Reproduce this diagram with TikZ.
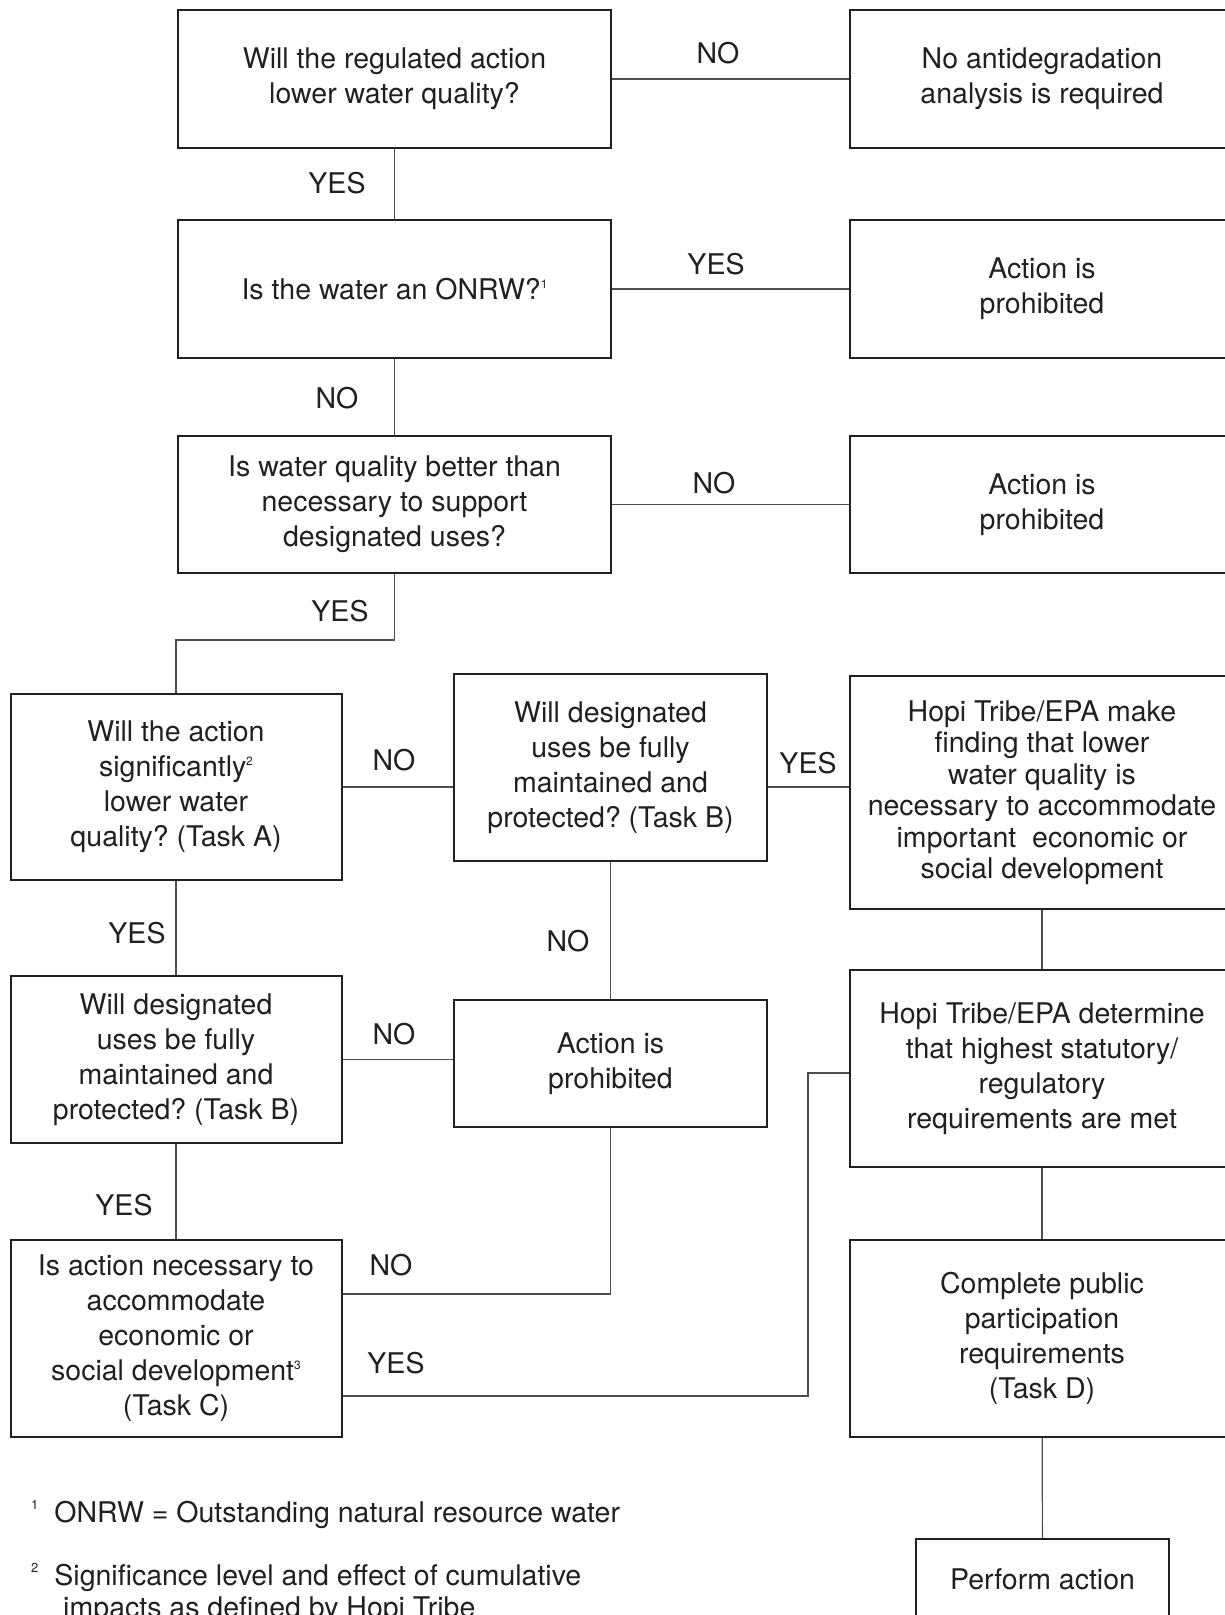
\documentclass[tikz,border=0pt]{standalone}
\usepackage{fontspec}
\setmainfont{TeX Gyre Heros}
\usepackage{tikz}
\frenchspacing
\definecolor{cink}{HTML}{231f20}
\definecolor{cline}{HTML}{4d4d4f}
\newcommand{\supnum}[1]{\raisebox{11pt}{\fontsize{12}{12}\selectfont #1}}
\newcommand{\fnnum}[1]{\raisebox{13pt}{\fontsize{13}{13}\selectfont #1}}

\begin{document}
\begin{tikzpicture}[
  x=1pt,y=-1pt,
  box/.style={draw=cink,line width=2pt,align=center,inner sep=2pt,text=cink,
    font=\fontsize{28.5}{35}\selectfont},
  lbl/.style={text=cink,font=\fontsize{28.5}{35}\selectfont,inner sep=0pt},
  link/.style={draw=cline,line width=1.2pt},
  fnote/.style={text=cink,font=\fontsize{28.5}{32}\selectfont,anchor=base west,inner sep=0pt}]
  \useasboundingbox (0,0) rectangle (1225,1615);
  \clip (0,0) rectangle (1225,1615);

  % top column
  \node[box,minimum width=433pt,minimum height=138pt] (regq) at (394.5,79) {Will the regulated action\\lower water quality?};
  \node[box,minimum width=384pt,minimum height=138pt] (noanal) at (1042,79) {No antidegradation\\analysis is required};
  \node[box,minimum width=433pt,minimum height=138pt] (onrwq) at (394.5,289) {Is the water an ONRW?\supnum{1}};
  \node[box,minimum width=384pt,minimum height=138pt] (prohibA) at (1042,289) {Action is\\prohibited};
  \node[box,minimum width=433pt,minimum height=137pt] (betterq) at (394.5,504.5) {Is water quality better than\\necessary to support\\designated uses?};
  \node[box,minimum width=384pt,minimum height=137pt] (prohibB) at (1042,504.5) {Action is\\prohibited};

  % tasks
  \node[box,minimum width=331pt,minimum height=186pt] (taskA) at (176,787) {Will the action\\significantly\supnum{2}\\lower water\\quality? (Task A)};
  \node[box,minimum width=313pt,minimum height=187pt] (taskBr) at (610.5,767.5) {Will designated\\uses be fully\\maintained and\\protected? (Task B)};
  \node[box,minimum width=384pt,minimum height=233pt,font=\fontsize{28.5}{31.5}\selectfont] (finding) at (1042,792.5) {Hopi Tribe/EPA make\\finding that lower\\water quality is\\necessary to accommodate\\important\ \ economic or\\social development};
  \node[box,minimum width=331pt,minimum height=167pt] (taskBl) at (176,1059.5) {Will designated\\uses be fully\\maintained and\\protected? (Task B)};
  \node[box,minimum width=313pt,minimum height=127pt] (prohibC) at (610.5,1063.5) {Action is\\prohibited};
  \node[box,minimum width=384pt,minimum height=197pt] (determine) at (1042,1068.5) {Hopi Tribe/EPA determine\\that highest statutory/\\regulatory\\requirements are met};
  \node[box,minimum width=331pt,minimum height=197pt] (taskC) at (176,1338.5) {Is action necessary to\\accommodate\\economic or\\social development\supnum{3}\\(Task C)};
  \node[box,minimum width=384pt,minimum height=197pt] (taskD) at (1042,1338.5) {Complete public\\participation\\requirements\\(Task D)};
  \node[box,minimum width=253pt,minimum height=80pt] (perform) at (1042.5,1579) {Perform action};

  % connectors
  \draw[link] (regq) -- (noanal);
  \draw[link] (regq) -- (onrwq);
  \draw[link] (onrwq) -- (prohibA);
  \draw[link] (onrwq) -- (betterq);
  \draw[link] (betterq) -- (prohibB);
  \coordinate (bend) at (394.5,640);
  \draw[link] (betterq.south) -- (bend) -| (taskA.north);
  \draw[link] (taskA.east) -- (taskA.east -| taskBr.west);
  \draw[link] (taskA.east -| taskBr.east) -- (taskA.east -| finding.west);
  \draw[link] (taskBr) -- (prohibC);
  \draw[link] (finding) -- (determine);
  \draw[link] (taskA) -- (taskBl);
  \draw[link] (taskBl.east) -- (taskBl.east -| prohibC.west);
  \draw[link] (taskBl) -- (taskC);
  \coordinate (noC) at (610.5,1294);
  \draw[link] (prohibC) -- (noC) -- (noC -| taskC.east);
  \coordinate (yesC) at (808,1396);
  \coordinate (yesUp) at (808,1073);
  \draw[link] (yesC -| taskC.east) -- (yesC) -- (yesUp) -- (yesUp -| determine.west);
  \draw[link] (determine) -- (taskD);
  \draw[link] (taskD) -- (perform);

  % answers
  \node[lbl] (l1) at (718,53) {NO};
  \node[lbl] (l2) at (337,183) {YES};
  \node[lbl] (l3) at (716,264) {YES};
  \node[lbl] (l4) at (337,398) {NO};
  \node[lbl] (l5) at (714,483) {NO};
  \node[lbl] (l6) at (340,611) {YES};
  \node[lbl] (l7) at (394,760) {NO};
  \node[lbl] (l8) at (808,763) {YES};
  \node[lbl] (l9) at (568,941) {NO};
  \node[lbl] (l10) at (137,933) {YES};
  \node[lbl] (l11) at (394,1034) {NO};
  \node[lbl] (l12) at (124,1205) {YES};
  \node[lbl] (l13) at (391,1265) {NO};
  \node[lbl] (l14) at (396,1363) {YES};

  % footnotes
  \node[fnote] (fn1) at (31,1522) {\fnnum{1}\hspace{16pt}ONRW = Outstanding natural resource water};
  \node[fnote] (fn2a) at (31,1585) {\fnnum{2}\hspace{16pt}Significance level and effect of cumulative};
  \node[fnote] (fn2b) at (63,1617) {impacts as defined by Hopi Tribe};
\end{tikzpicture}
\end{document}
